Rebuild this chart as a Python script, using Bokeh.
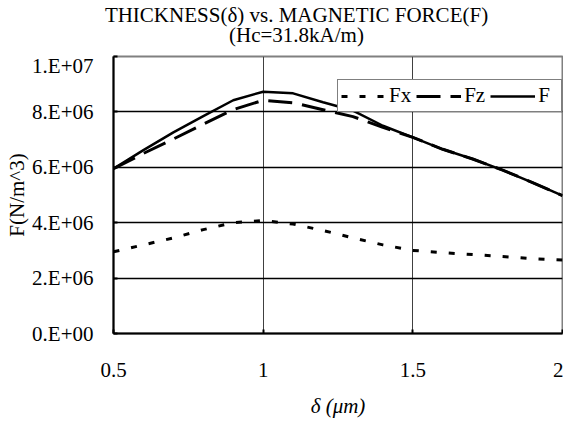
from bokeh.plotting import figure
from bokeh.models import FixedTicker, Legend, LegendItem, Label
from bokeh.embed import file_html
from bokeh.resources import INLINE

# ---- data ----
thickness = [0.5, 0.6, 0.7, 0.8, 0.9, 1.0, 1.1, 1.2, 1.3, 1.4, 1.5, 1.6, 1.7, 1.8, 1.9, 2.0]
fx = [2.95e6, 3.2e6, 3.45e6, 3.75e6, 4.0e6, 4.08e6, 3.95e6, 3.72e6, 3.45e6, 3.2e6,
      3.0e6, 2.92e6, 2.85e6, 2.78e6, 2.7e6, 2.65e6]
fz = [5.95e6, 6.5e6, 7.02e6, 7.56e6, 8.08e6, 8.42e6, 8.33e6, 8.08e6, 7.83e6, 7.44e6,
      7.08e6, 6.65e6, 6.3e6, 5.9e6, 5.45e6, 4.98e6]
f = [5.95e6, 6.62e6, 7.26e6, 7.85e6, 8.42e6, 8.73e6, 8.67e6, 8.35e6, 8.05e6, 7.5e6,
     7.08e6, 6.65e6, 6.3e6, 5.9e6, 5.45e6, 4.98e6]

x_ticks = [0.5, 1.0, 1.5, 2.0]
x_tick_labels = ["0.5", "1", "1.5", "2"]
y_ticks = [0, 2e6, 4e6, 6e6, 8e6, 1e7]
y_tick_labels = ["0.E+00", "2.E+06", "4.E+06", "6.E+06", "8.E+06", "1.E+07"]

title_line1 = "THICKNESS(δ) vs. MAGNETIC FORCE(F)"
title_line2 = "(Hc=31.8kA/m)"
x_label = "δ (μm)"
y_label = "F(N/m^3)"

FONT = "Liberation Serif"
FS = "21px"
W = 563

# ---- title strip: its own root, so its frame is the full strip width ----
TH = 53
tf = figure(width=W, height=TH, x_range=(0, W), y_range=(0, TH),
            output_backend="svg", toolbar_location=None,
            x_axis_location=None, y_axis_location=None, min_border=0,
            outline_line_color=None, background_fill_color="white",
            border_fill_color="white")
tf.grid.visible = False
for txt, yy in ((title_line1, 39), (title_line2, 19)):
    tf.add_layout(Label(x=296, y=yy, text=txt, text_align="center",
                        text_baseline="alphabetic", text_font=FONT,
                        text_font_size=FS, text_color="black"))

# ---- main chart ----
p = figure(frame_width=449, frame_height=277,
           x_range=(0.5, 2.0), y_range=(0, 1e7),
           output_backend="svg", toolbar_location=None,
           min_border_left=113, min_border_right=1,
           min_border_top=3, min_border_bottom=86,
           background_fill_color="white", border_fill_color=None)

p.outline_line_color = "#808080"
p.outline_line_width = 2

p.xgrid.ticker = FixedTicker(ticks=x_ticks)
p.ygrid.ticker = FixedTicker(ticks=y_ticks)
p.xgrid.grid_line_color = "#404040"
p.xgrid.grid_line_width = 1
p.ygrid.grid_line_color = "black"
p.ygrid.grid_line_width = 1.5

for ax in (p.xaxis[0], p.yaxis[0]):
    ax.axis_line_color = "black"
    ax.axis_line_width = 2
    ax.major_tick_line_color = "black"
    ax.major_tick_line_width = 2
    ax.major_tick_in = 4
    ax.major_tick_out = 0
    ax.minor_tick_line_color = None
    ax.major_label_text_font = FONT
    ax.major_label_text_font_size = FS
    ax.major_label_text_color = "black"
    ax.axis_label_text_font = FONT
    ax.axis_label_text_font_size = FS
    ax.axis_label_text_color = "black"

p.xaxis.ticker = FixedTicker(ticks=x_ticks)
p.xaxis.major_label_overrides = dict(zip(x_ticks, x_tick_labels))
p.xaxis.major_label_standoff = 29
p.xaxis.axis_label = x_label
p.xaxis.axis_label_text_font_style = "italic"
p.xaxis.axis_label_standoff = 14

p.yaxis.ticker = FixedTicker(ticks=y_ticks)
p.yaxis.major_label_overrides = dict(zip(y_ticks, y_tick_labels))
p.yaxis.major_label_standoff = 20
p.yaxis.axis_label = y_label
p.yaxis.axis_label_text_font_style = "normal"
p.yaxis.axis_label_standoff = 0

r_fx = p.line(thickness, fx, line_color="black", line_width=3, line_dash="6 12")
r_fz = p.line(thickness, fz, line_color="black", line_width=3, line_dash="24 10")
r_f = p.line(thickness, f, line_color="black", line_width=2.5)

legend = Legend(items=[LegendItem(label="Fx", renderers=[r_fx]),
                       LegendItem(label="Fz", renderers=[r_fz]),
                       LegendItem(label="F", renderers=[r_f])],
                orientation="horizontal", location=(224, 221),
                glyph_width=45, glyph_height=18, label_standoff=3,
                spacing=5, padding=3, margin=0,
                label_text_font=FONT, label_text_font_size=FS,
                label_text_color="black",
                border_line_color="black", border_line_width=1,
                background_fill_color="white", background_fill_alpha=1)
p.add_layout(legend)

open("out.html", "w").write(file_html([tf, p], INLINE))
